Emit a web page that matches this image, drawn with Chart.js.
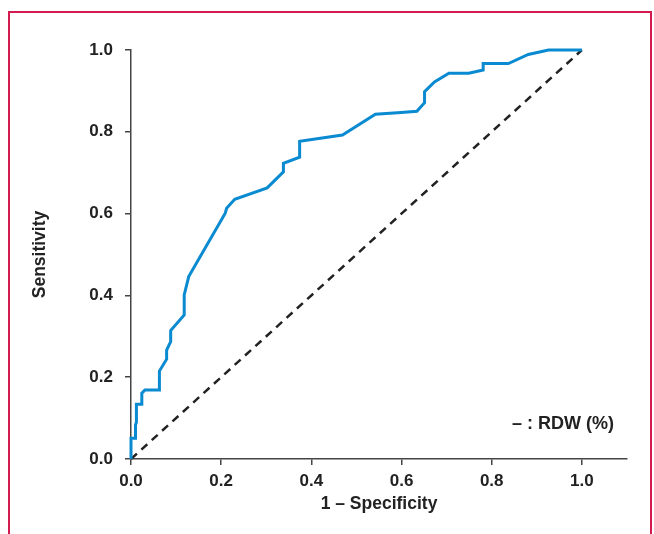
<!DOCTYPE html>
<html>
<head>
<meta charset="utf-8">
<script src="https://cdn.jsdelivr.net/npm/chart.js@4.4.0/dist/chart.umd.min.js"></script>
<style>
    body { margin: 0; background: #fff; }
    #wrap { position: relative; width: 654px; height: 534px; overflow: hidden; }
    #frame {
        position: absolute; left: 8px; top: 11px; width: 640px; height: 560px;
        border: 2.5px solid #d31b4f; border-bottom: none;
    }
    #legenda {
        position: absolute; right: 40px; top: 413px;
        font: bold 18px "Liberation Sans", Arial, sans-serif; color: #222;
    }
</style>
</head>
<body>
<div id="wrap">
    <div id="frame"></div>
    <canvas id="graficoRoc"></canvas>
    <div id="legenda">– : RDW (%)</div>
</div>
<script>
/* DADOS - CURVA ROC */
const especificidade1 = [0, 0, 0.010, 0.010, 0.012, 0.012, 0.024, 0.024, 0.031, 0.063,
    0.063, 0.079, 0.079, 0.088, 0.088, 0.118, 0.118, 0.128, 0.209, 0.212,
    0.230, 0.302, 0.338, 0.338, 0.374, 0.374, 0.469, 0.542, 0.599, 0.634,
    0.651, 0.651, 0.673, 0.705, 0.749, 0.781, 0.781, 0.837, 0.881, 0.926, 1.0];
const sensibilidade = [0, 0.051, 0.051, 0.083, 0.090, 0.134, 0.134, 0.161, 0.169, 0.169,
    0.215, 0.244, 0.266, 0.287, 0.314, 0.352, 0.401, 0.446, 0.601, 0.613,
    0.635, 0.663, 0.702, 0.723, 0.738, 0.777, 0.792, 0.843, 0.847, 0.850,
    0.871, 0.898, 0.922, 0.943, 0.943, 0.951, 0.967, 0.967, 0.989, 1.0, 1.0];
const referenciaX = [0, 1];
const referenciaY = [0, 1];
const ticksX = [0, 0.2, 0.4, 0.6, 0.8, 1.0];
const ticksY = [0, 0.2, 0.4, 0.6, 0.8, 1.0];

const fonte = { family: "'Liberation Sans', Arial, sans-serif", size: 17, weight: "bold" };
const fonteTitulo = { family: "'Liberation Sans', Arial, sans-serif", size: 17.5, weight: "bold" };
const corEixo = "#444";

new Chart(document.getElementById("graficoRoc"), {
    type: "line",
    data: {
        datasets: [{
            data: especificidade1.map((x, i) => ({ x: x, y: sensibilidade[i] })),
            borderColor: "#0a8ad0",
            borderWidth: 3,
            pointRadius: 0,
            tension: 0,
            clip: false
        }, {
            data: referenciaX.map((x, i) => ({ x: x, y: referenciaY[i] })),
            borderColor: "#222",
            borderWidth: 2.5,
            borderDash: [8, 6],
            pointRadius: 0,
            clip: false
        }]
    },
    options: {
        responsive: true,
        maintainAspectRatio: false,
        animation: false,
        layout: { padding: { top: 50, right: 27, left: 0, bottom: 0 } },
        plugins: { legend: { display: false }, tooltip: { enabled: false } },
        scales: {
            x: {
                type: "linear",
                min: 0,
                max: 1.1,
                afterFit: s => { s.height = 75; },
                afterBuildTicks: s => { s.ticks = ticksX.map(v => ({ value: v })); },
                grid: { drawOnChartArea: false, tickLength: 6, color: corEixo, lineWidth: 1.5 },
                border: { color: corEixo, width: 1.5 },
                ticks: { font: fonte, color: "#222", padding: 6, maxRotation: 0,
                    callback: v => v.toFixed(1) },
                title: { display: true, text: "1 – Specificity", font: fonteTitulo, color: "#222",
                    padding: { top: 0, bottom: 19 } }
            },
            y: {
                min: 0,
                max: 1,
                afterFit: s => { s.width = 131; },
                afterBuildTicks: s => { s.ticks = ticksY.map(v => ({ value: v })); },
                grid: { drawOnChartArea: false, tickLength: 6, color: corEixo, lineWidth: 1.5 },
                border: { color: corEixo, width: 1.5 },
                ticks: { font: fonte, color: "#222", padding: 12,
                    callback: v => v.toFixed(1) },
                title: { display: true, text: "Sensitivity", font: fonteTitulo, color: "#222",
                    padding: { top: 30, bottom: 0 } }
            }
        }
    }
});
</script>
</body>
</html>
